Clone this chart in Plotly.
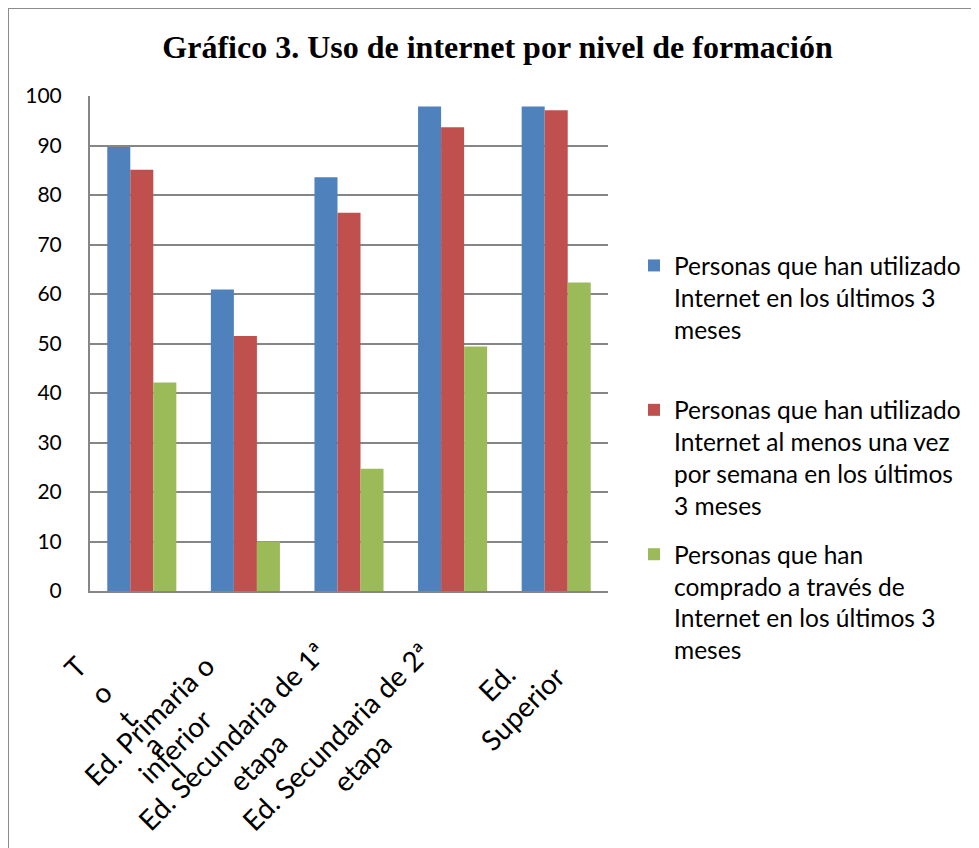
import plotly.graph_objects as go

# datos
categorias = ["Total", "Ed. Primaria o inferior", "Ed. Secundaria de 1ª etapa",
              "Ed. Secundaria de 2ª etapa", "Ed. Superior"]
etiquetas = ["T<br>o<br>t<br>a<br>l", "Ed. Primaria o<br>inferior",
             "Ed. Secundaria de 1ª<br>etapa", "Ed. Secundaria de 2ª<br>etapa",
             "Ed.<br>Superior"]

series = [
    "Personas que han utilizado<br>Internet en los últimos 3<br>meses<br> ",
    "Personas que han utilizado<br>Internet al menos una vez<br>por semana en los últimos<br>3 meses",
    "Personas que han<br>comprado a través de<br>Internet en los últimos 3<br>meses",
]
uso_3_meses = [89.7, 60.9, 83.6, 97.9, 97.9]
uso_semanal = [85.1, 51.5, 76.4, 93.7, 97.1]
compra_internet = [42.1, 10.0, 24.7, 49.4, 62.3]

colores = ["#4F81BD", "#C0504D", "#9BBB59"]

# el navegador deja 8px de margen al body: todo va en px de la figura
W, H = 971, 840
L, R, T, B = 82, 600, 88, 583

# desplazamiento (px) del centro de cada etiqueta respecto a su categoria
etiq_dx = [-15, -84, -105, -104, -47]
etiq_y = [710, 725, 741, 741, 687]

fig = go.Figure()
for nombre, vals, col in zip(series, [uso_3_meses, uso_semanal, compra_internet], colores):
    fig.add_trace(go.Bar(x=categorias, y=vals, name=nombre, legendgroup=nombre,
                         marker=dict(color=col, line=dict(width=0))))

for cat, txt, dx, py in zip(categorias, etiquetas, etiq_dx, etiq_y):
    fig.add_annotation(x=cat, xref="x", y=0, yref="paper", xshift=dx, yshift=B - py,
                       text=txt, textangle=-45, showarrow=False, align="center",
                       xanchor="center", yanchor="middle",
                       font=dict(family="Lato", size=28, color="black"))

# marco exterior (solo lados izquierdo y superior visibles)
fx = (0 - L) / (R - L)
fy = (B - 0) / (B - T)
fig.add_shape(type="line", xref="paper", yref="paper", x0=fx, x1=2, y0=fy, y1=fy,
              line=dict(color="#8c8c8c", width=2))
fig.add_shape(type="line", xref="paper", yref="paper", x0=fx, x1=fx, y0=-1, y1=fy,
              line=dict(color="#8c8c8c", width=2))

fig.update_layout(
    width=W, height=H,
    margin=dict(l=L, r=W - R, t=T, b=H - B),
    paper_bgcolor="white", plot_bgcolor="white",
    font=dict(family="Lato", color="black"),
    title=dict(text="<b>Gráfico 3. Uso de internet por nivel de formación</b>",
               font=dict(family="Liberation Serif", size=32, color="black"),
               x=489.5 / W, xanchor="center", xref="container",
               y=1 - 39 / H, yanchor="middle", yref="container"),
    barmode="group", bargap=1 / 3, bargroupgap=0,
    showlegend=True,
    legend=dict(x=(626 - L) / (R - L), xanchor="left", y=(B - 235) / (B - T), yanchor="top",
                traceorder="grouped", tracegroupgap=14, valign="top",
                font=dict(family="Lato", size=24.5, color="black"),
                bgcolor="rgba(0,0,0,0)"),
)
fig.update_xaxes(range=[-0.5, 4.5], showticklabels=False, showline=True,
                 linecolor="#868686", linewidth=2, showgrid=False, ticks="")
fig.update_yaxes(range=[0, 100], dtick=10, showline=True, linecolor="#868686", linewidth=2,
                 showgrid=True, gridcolor="#868686", gridwidth=2, zeroline=False,
                 ticks="", ticklabelstandoff=22,
                 tickfont=dict(family="Lato", size=21, color="black"))

fig.write_html("out.html")
